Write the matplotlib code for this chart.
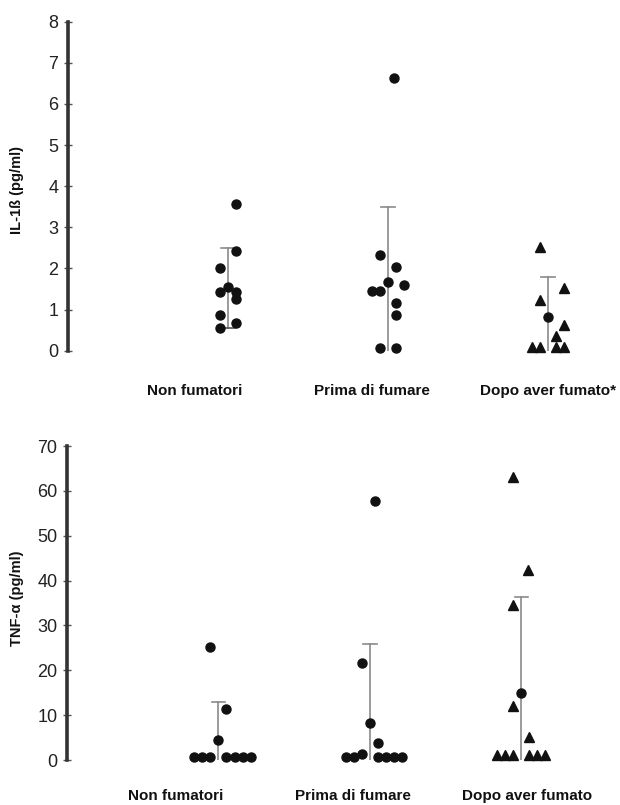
import numpy as np
import matplotlib.pyplot as plt

plt.rcParams['font.family'] = ['Liberation Sans', 'DejaVu Sans']

groups_top = ['Non fumatori', 'Prima di fumare', 'Dopo aver fumato*']
groups_bot = ['Non fumatori', 'Prima di fumare', 'Dopo aver fumato']

# IL-1ß (pg/ml): individual values and jitter slot of each point
il1_non = [3.57, 2.43, 2.01, 1.42, 1.42, 1.26, 0.87, 0.67, 0.55]
il1_non_slot = [1, 1, -1, -1, 1, 1, -1, 1, -1]
il1_pre = [6.63, 2.33, 2.04, 1.60, 1.45, 1.45, 1.16, 0.87, 0.07, 0.07]
il1_pre_slot = [0.7, -1, 1, 2, -2, -1, 1, 1, -1, 1]
il1_post = [2.53, 1.52, 1.23, 0.62, 0.36, 0.09, 0.09, 0.09, 0.09]
il1_post_slot = [-1, 2, -1, 2, 1, -2, -1, 1, 2]
il1_center = [1.56, 1.67, 0.82]
il1_err_low = [0.55, 0.0, 0.0]
il1_err_high = [2.5, 3.5, 1.79]

# TNF-α (pg/ml)
tnf_non = [25.2, 11.4, 0.6, 0.6, 0.6, 0.6, 0.6, 0.6, 0.6]
tnf_non_slot = [-1, 1, -3, -2, -1, 1, 2, 3, 4]
tnf_pre = [57.7, 21.6, 3.9, 1.4, 0.6, 0.6, 0.6, 0.6, 0.6, 0.6]
tnf_pre_slot = [0.6, -1, 1, -1, -3, -2, 1, 2, 3, 4]
tnf_post = [63.1, 42.3, 34.5, 12.0, 5.2, 1.1, 1.1, 1.1, 1.1, 1.1, 1.1]
tnf_post_slot = [-1, 0.8, -1, -1, 1, -3, -2, -1, 1, 2, 3]
tnf_center = [4.5, 8.3, 15.0]
tnf_err_low = [0.0, 0.0, 0.0]
tnf_err_high = [12.9, 25.8, 36.4]

W, H = 620, 805
fig = plt.figure(figsize=(W / 100, H / 100), dpi=100)


def panel(rect, slot_w, series, markers, center, lo, hi, caps_low, ylim, yticks,
          labels, label_shift, label_pad, ylabel, ylabel_xy):
    ax = fig.add_axes(rect)
    for i, (vals, slots) in enumerate(series):
        x = i + np.array(slots) * slot_w
        ax.plot(x, vals, ls='none', marker=markers[i], ms=7 if markers[i] == '^' else 6.5,
                color='#111111', clip_on=False, zorder=3)
    for i in range(3):
        ax.plot([i, i], [lo[i], hi[i]], color='#8a8a8a', lw=1.2, zorder=2)
        ax.plot([i - 0.045, i + 0.045], [hi[i], hi[i]], color='#8a8a8a', lw=1.2, zorder=2)
        if caps_low[i]:
            ax.plot([i - 0.045, i + 0.045], [lo[i], lo[i]], color='#555555', lw=1.2, zorder=2)
    ax.plot(range(3), center, ls='none', marker='o', ms=6.5, color='#111111',
            clip_on=False, zorder=4)
    ax.set_xlim(-1, 2.4)
    ax.set_ylim(*ylim)
    ax.set_yticks(yticks)
    ax.set_yticklabels([str(t) for t in yticks], fontsize=13, color='#222222')
    ax.set_xticks(np.arange(3) + np.array(label_shift))
    ax.set_xticklabels(labels, fontsize=11, fontweight='bold', color='#111111')
    ax.tick_params(axis='x', length=0, pad=label_pad)
    ax.tick_params(axis='y', direction='inout', length=6, width=1, color='#555555', pad=4)
    for s in ['top', 'right', 'bottom']:
        ax.spines[s].set_visible(False)
    ax.spines['left'].set_linewidth(2.6)
    ax.spines['left'].set_color('#333333')
    fig.text(ylabel_xy[0] / W, 1 - ylabel_xy[1] / H, ylabel, rotation=90,
             ha='center', va='center', fontsize=10.5, fontweight='bold', color='#111111')
    return ax


panel([68 / W, 1 - 350.7 / H, 544 / W, 329 / H], 0.05,
      [(il1_non, il1_non_slot), (il1_pre, il1_pre_slot), (il1_post, il1_post_slot)],
      ['o', 'o', '^'], il1_center, il1_err_low, il1_err_high, [True, False, False],
      (0, 8), list(range(0, 9)), groups_top, [-0.21, -0.1, 0.0], 24,
      'IL-1ß (pg/ml)', (17, 190))

panel([67 / W, 45 / H, 515 / W, 314 / H], 0.053,
      [(tnf_non, tnf_non_slot), (tnf_pre, tnf_pre_slot), (tnf_post, tnf_post_slot)],
      ['o', 'o', '^'], tnf_center, tnf_err_low, tnf_err_high, [False, False, False],
      (0, 70), list(range(0, 71, 10)), groups_bot, [-0.28, -0.11, 0.04], 21,
      'TNF-α (pg/ml)', (17, 598))

fig.savefig('out.png', dpi=100)
